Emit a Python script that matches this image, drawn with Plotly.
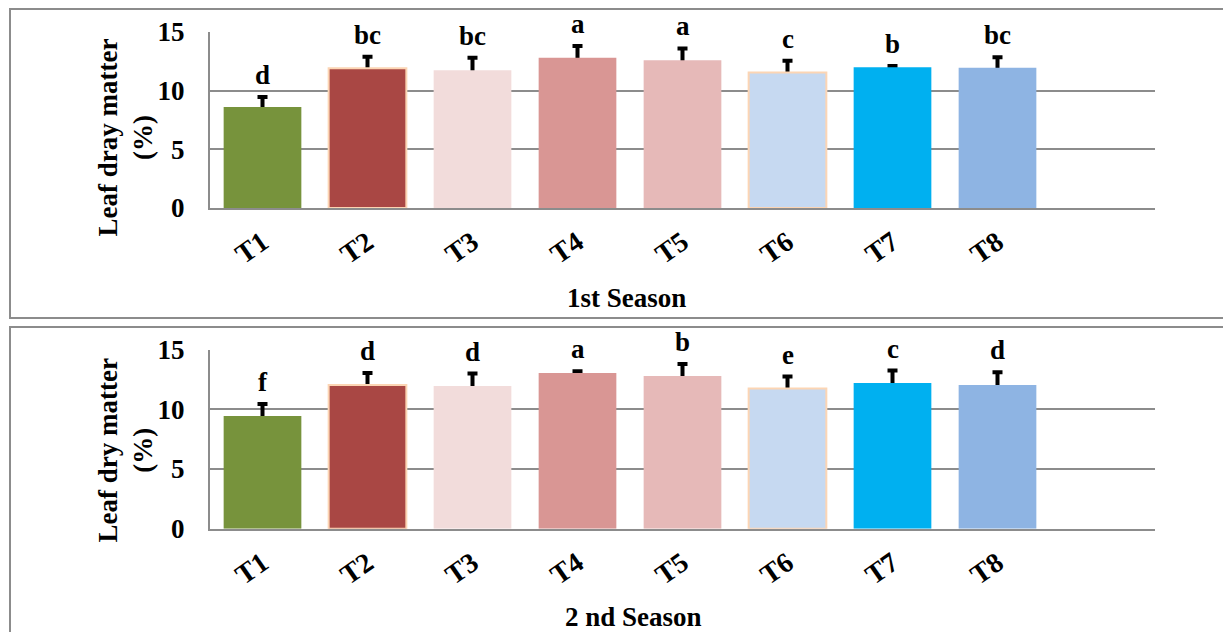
import plotly.graph_objects as go

W, H = 1223, 632

categories = ["T1", "T2", "T3", "T4", "T5", "T6", "T7", "T8"]
season1_values = [8.6, 11.9, 11.75, 12.8, 12.6, 11.55, 12.0, 11.95]
season1_errors = [0.85, 1.0, 1.05, 1.0, 1.0, 1.0, 0.1, 0.9]
season1_letters = ["d", "bc", "bc", "a", "a", "c", "b", "bc"]
season2_values = [9.45, 12.05, 11.95, 13.05, 12.8, 11.75, 12.2, 12.05]
season2_errors = [1.0, 1.0, 1.05, 0.15, 1.0, 1.0, 1.05, 1.05]
season2_letters = ["f", "d", "d", "a", "b", "e", "c", "d"]
y_ticks = [0, 5, 10, 15]

bar_colors = ["#77933C", "#A94744", "#F2DCDB", "#D99694", "#E6B9B8", "#C6D9F1", "#00B0F0", "#8EB4E3"]
bar_line_colors = ["#77933C", "#FCD5B4", "#F2DCDB", "#D99694", "#E6B9B8", "#FCD5B4", "#00B0F0", "#8EB4E3"]
bar_line_widths = [0, 2, 0, 0, 0, 2, 0, 0]

FONT = "Liberation Serif"
GRID = "#8C8C8C"

def px_x(x):
    return x / W

def px_y(y):
    return 1 - y / H

xs = list(range(len(categories)))
BAR_W = 0.74

fig = go.Figure()
for vals, errs, xa, ya in [(season1_values, season1_errors, "x", "y"),
                           (season2_values, season2_errors, "x2", "y2")]:
    # error bars (symmetric) drawn first; the lower half is hidden by the bars drawn on top
    fig.add_trace(go.Bar(
        x=xs, y=vals, xaxis=xa, yaxis=ya, width=BAR_W,
        marker=dict(color="rgba(0,0,0,0)", line=dict(width=0)),
        error_y=dict(type="data", array=errs, symmetric=True,
                     color="black", thickness=4, width=5),
        showlegend=False, hoverinfo="skip",
    ))
    fig.add_trace(go.Bar(
        x=xs, y=vals, xaxis=xa, yaxis=ya, width=BAR_W,
        marker=dict(color=bar_colors, line=dict(color=bar_line_colors, width=bar_line_widths)),
        showlegend=False, hoverinfo="skip",
    ))

x_dom = [px_x(210), px_x(1155)]
axis_x = dict(domain=x_dom, range=[-0.5, 8.5], tickmode="array", tickvals=xs, ticktext=categories,
              tickangle=-35, tickfont=dict(family=FONT, size=28, color="black", weight="bold"),
              showgrid=False, zeroline=False, showline=True, linecolor=GRID, linewidth=2,
              ticks="", ticklabelstandoff=5, fixedrange=True, automargin=False)
axis_y = dict(range=[0, 15], tickmode="array", tickvals=y_ticks,
              tickfont=dict(family=FONT, size=27, color="black", weight="bold"),
              showgrid=True, gridcolor=GRID, gridwidth=2, zeroline=False,
              showline=True, linecolor=GRID, linewidth=2, ticks="", ticklabelstandoff=18,
              fixedrange=True, automargin=False)

fig.update_layout(
    width=W, height=H,
    margin=dict(l=0, r=0, t=0, b=0, pad=0, autoexpand=False),
    paper_bgcolor="white", plot_bgcolor="white",
    barmode="overlay",
    xaxis=dict(axis_x, anchor="y"),
    yaxis=dict(axis_y, domain=[px_y(208), px_y(32)], anchor="x"),
    xaxis2=dict(axis_x, anchor="y2"),
    yaxis2=dict(axis_y, domain=[px_y(528.7), px_y(349.7)], anchor="x2"),
)

annotations = []
for letters, vals, errs, xr, yr in [(season1_letters, season1_values, season1_errors, "x", "y"),
                                    (season2_letters, season2_values, season2_errors, "x2", "y2")]:
    for i, t in enumerate(letters):
        annotations.append(dict(x=i, y=vals[i] + errs[i], xref=xr, yref=yr, text=t,
                                showarrow=False, yanchor="bottom", yshift=5,
                                font=dict(family=FONT, size=27, color="black", weight="bold")))

annotations += [
    dict(x=px_x(125), y=px_y(137.5), xref="paper", yref="paper", text="Leaf dray matter<br>(%)",
         textangle=-90, showarrow=False, xanchor="center", yanchor="middle",
         font=dict(family=FONT, size=27, color="black", weight="bold")),
    dict(x=px_x(125), y=px_y(450.5), xref="paper", yref="paper", text="Leaf dry matter<br>(%)",
         textangle=-90, showarrow=False, xanchor="center", yanchor="middle",
         font=dict(family=FONT, size=27, color="black", weight="bold")),
    dict(x=px_x(627), y=px_y(298), xref="paper", yref="paper", text="1st Season",
         showarrow=False, xanchor="center", yanchor="middle",
         font=dict(family=FONT, size=27, color="black", weight="bold")),
    dict(x=px_x(633), y=px_y(617), xref="paper", yref="paper", text="2 nd Season",
         showarrow=False, xanchor="center", yanchor="middle",
         font=dict(family=FONT, size=27, color="black", weight="bold")),
]
fig.update_layout(annotations=annotations)

fig.update_layout(shapes=[
    dict(type="rect", xref="paper", yref="paper", x0=px_x(10), x1=px_x(1240), y0=px_y(318), y1=px_y(9),
         line=dict(color="#8C8C8C", width=2), layer="below"),
    dict(type="rect", xref="paper", yref="paper", x0=px_x(10), x1=px_x(1240), y0=px_y(645), y1=px_y(327),
         line=dict(color="#8C8C8C", width=2), layer="below"),
])

fig.write_html("out.html")
